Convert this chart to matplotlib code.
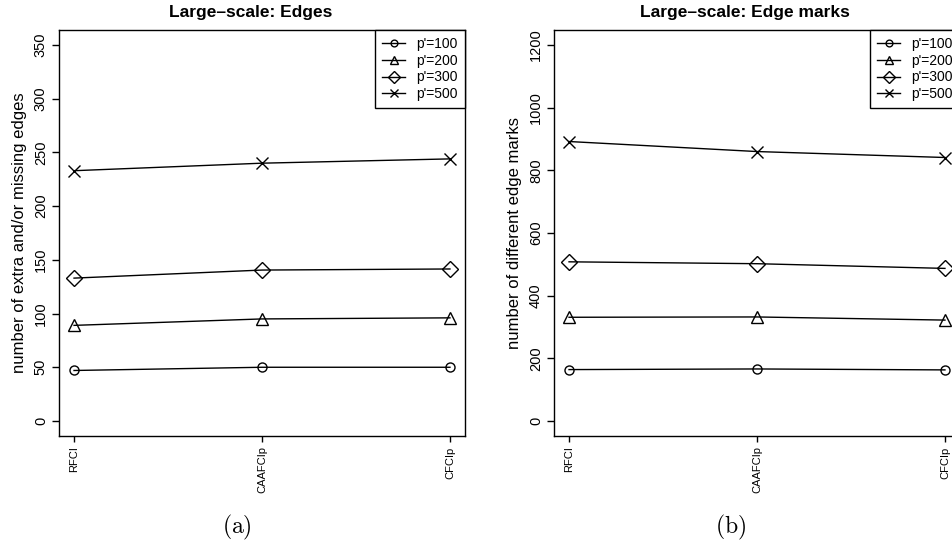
import matplotlib
matplotlib.use("Agg")
import matplotlib.pyplot as plt

plt.rcParams['font.family'] = ['Liberation Sans', 'DejaVu Sans']
plt.rcParams['mathtext.fontset'] = 'cm'

# data
methods = ["RFCI", "CAAFCIp", "CFCIp"]
series_labels = ["p'=100", "p'=200", "p'=300", "p'=500"]
markers = ['o', '^', 'D', 'x']
marker_sizes = [6.5, 8, 8, 8]

edges_100 = [47, 50, 50]
edges_200 = [89, 95, 96]
edges_300 = [133, 140.5, 141.5]
edges_500 = [233, 240, 244]

marks_100 = [164, 166, 163]
marks_200 = [331, 332, 322]
marks_300 = [508, 502, 487]
marks_500 = [892, 860, 841]

edges_yticks = [0, 50, 100, 150, 200, 250, 300, 350]
marks_yticks = [0, 200, 400, 600, 800, 1000, 1200]

W, H = 952, 540
fig = plt.figure(figsize=(W / 100, H / 100), dpi=100)


def panel(left_px, series, yticks, ylim, ylabel, title, title_x, tag, tag_x):
    ax = fig.add_axes([left_px / W, (H - 436) / H, 406 / W, 406 / H])
    x = list(range(len(methods)))
    for vals, lab, m, ms in zip(series, series_labels, markers, marker_sizes):
        ax.plot(x, vals, color='black', lw=1, marker=m, ms=ms,
                mfc='none', mec='black', mew=1, label=lab)
    ax.set_xlim(-0.08, 2.08)
    ax.set_ylim(*ylim)
    ax.set_xticks(x)
    ax.set_xticklabels(methods, rotation=90, fontsize=8, va='top')
    ax.set_yticks(yticks)
    ax.set_yticklabels([str(t) for t in yticks], rotation=90, va='center', fontsize=10.5)
    ax.tick_params(axis='y', direction='out', length=5, width=1, pad=3)
    ax.tick_params(axis='x', direction='out', length=4.5, width=1, pad=3)
    for s in ax.spines.values():
        s.set_linewidth(1)
    ax.set_ylabel(ylabel, fontsize=12)
    ax.yaxis.set_label_coords(-0.08, 0.5)
    leg = ax.legend(loc='upper right', bbox_to_anchor=(1, 1), borderaxespad=0,
                    fancybox=False, edgecolor='black', framealpha=1, fontsize=10,
                    markerscale=0.75, handlelength=1.7, handletextpad=0.8,
                    labelspacing=0.2, borderpad=0.5)
    leg.get_frame().set_linewidth(1)
    fig.text(title_x / W, 1 - 13 / H, title, ha='center', va='center',
             fontsize=12.5, fontweight='bold')
    fig.text(tag_x / W, 1 - 527 / H, tag, ha='center', va='center', fontsize=17)
    return ax


panel(59, [edges_100, edges_200, edges_300, edges_500], edges_yticks, (-14, 364),
      "number of extra and/or missing edges",
      "Large\u2013scale: Edges", 251, r"$\mathrm{(a)}$", 237)
panel(554, [marks_100, marks_200, marks_300, marks_500], marks_yticks, (-48, 1248),
      "number of different edge marks",
      "Large\u2013scale: Edge marks", 745, r"$\mathrm{(b)}$", 731)

fig.savefig("out.png", dpi=100)
